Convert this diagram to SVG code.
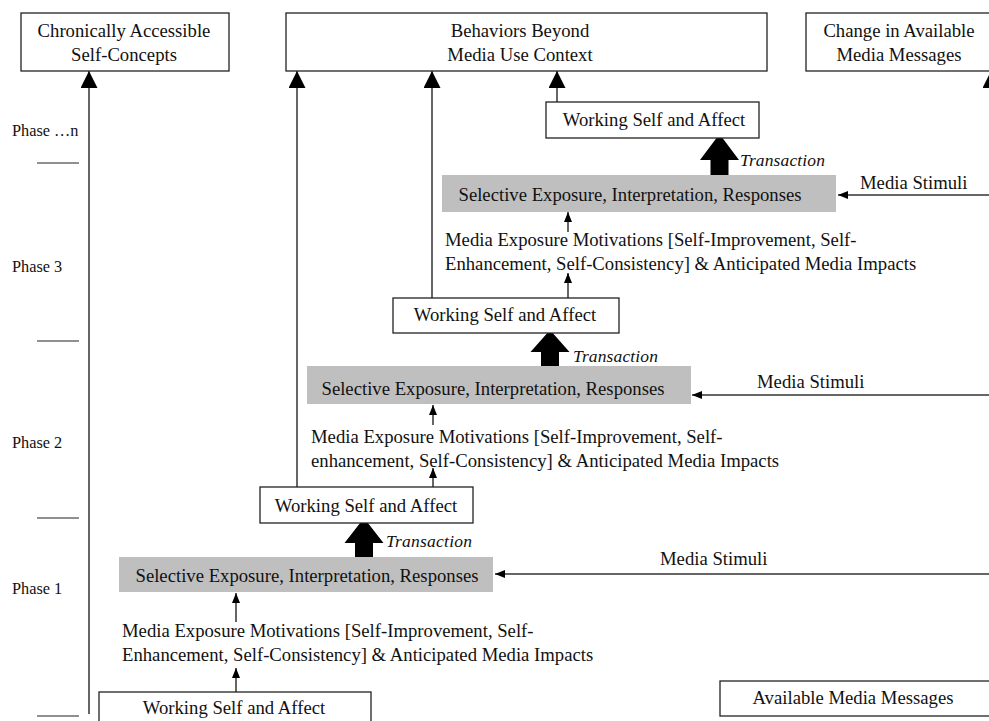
<svg xmlns="http://www.w3.org/2000/svg" width="989" height="721" viewBox="0 0 989 721">
<defs>
<style>
text{font-family:"Liberation Serif","Times New Roman",serif;fill:#111}
.t{font-size:18.7px}
.c{text-anchor:middle}
.ph{font-size:16.3px}
.tr{font-size:17.5px;font-style:italic}
.box{fill:#fff;stroke:#222;stroke-width:1.3}
.gray{fill:#bfbfbf}
.ln{stroke:#333;stroke-width:1.5;fill:none}
.sep{stroke:#222;stroke-width:1.2}
.blk{fill:#000}
</style>
<marker id="big" markerUnits="userSpaceOnUse" markerWidth="17" markerHeight="17" refX="17" refY="8.5" orient="auto"><path d="M0,0 L17,8.5 L0,17 z" fill="#000"/></marker>
<marker id="sm" markerUnits="userSpaceOnUse" markerWidth="10" markerHeight="8" refX="10" refY="4" orient="auto"><path d="M0,0 L10,4 L0,8 z" fill="#000"/></marker>
</defs>
<rect width="989" height="721" fill="#fff"/>

<g id="phases">
<text class="ph" x="12" y="136">Phase …n</text>
<text class="ph" x="12" y="272">Phase 3</text>
<text class="ph" x="12" y="448">Phase 2</text>
<text class="ph" x="12" y="594">Phase 1</text>
<line class="sep" x1="37" y1="163" x2="79" y2="163"/>
<line class="sep" x1="37" y1="341" x2="79" y2="341"/>
<line class="sep" x1="37" y1="518" x2="79" y2="518"/>
<line class="sep" x1="37" y1="716" x2="79" y2="716"/>
</g>

<g id="connectors">
<line class="ln" x1="89" y1="714" x2="89" y2="71" marker-end="url(#big)"/>
<line class="ln" x1="297" y1="487" x2="297" y2="71" marker-end="url(#big)"/>
<line class="ln" x1="432" y1="298" x2="432" y2="71" marker-end="url(#big)"/>
<line class="ln" x1="557" y1="102" x2="557" y2="71" marker-end="url(#big)"/>
<line class="ln" x1="991" y1="681" x2="991" y2="71" marker-end="url(#big)"/>
<line class="ln" x1="1000" y1="195" x2="838" y2="195" marker-end="url(#sm)"/>
<line class="ln" x1="1000" y1="395" x2="692" y2="395" marker-end="url(#sm)"/>
<line class="ln" x1="1000" y1="574" x2="495" y2="574" marker-end="url(#sm)"/>
<line class="ln" x1="568" y1="232" x2="568" y2="212" marker-end="url(#sm)"/>
<line class="ln" x1="568" y1="298" x2="568" y2="273" marker-end="url(#sm)"/>
<line class="ln" x1="433" y1="425" x2="433" y2="405" marker-end="url(#sm)"/>
<line class="ln" x1="433" y1="487" x2="433" y2="468" marker-end="url(#sm)"/>
<line class="ln" x1="236" y1="622" x2="236" y2="593" marker-end="url(#sm)"/>
<line class="ln" x1="236" y1="692" x2="236" y2="668" marker-end="url(#sm)"/>
<path class="blk" d="M719.5,134 L739,160 L728.5,160 L728.5,175 L710.5,175 L710.5,160 L700,160 z"/>
<path class="blk" d="M550,330 L569.5,352 L559,352 L559,366 L541,366 L541,352 L530.5,352 z"/>
<path class="blk" d="M364,518 L383.5,543 L373,543 L373,557 L355,557 L355,543 L344.5,543 z"/>
<text class="tr" x="740" y="166" textLength="85">Transaction</text>
<text class="tr" x="573" y="362" textLength="85">Transaction</text>
<text class="tr" x="386" y="547" textLength="86">Transaction</text>
<text class="t" x="860" y="189">Media Stimuli</text>
<text class="t" x="757" y="388">Media Stimuli</text>
<text class="t" x="660" y="565">Media Stimuli</text>
</g>

<g id="chronic">
<rect class="box" x="21" y="13" width="208" height="58"/>
<text class="t c" x="124" y="37">Chronically  Accessible</text>
<text class="t c" x="124" y="61">Self-Concepts</text>
</g>
<g id="behaviors">
<rect class="box" x="286" y="13" width="481" height="58"/>
<text class="t c" x="520" y="37">Behaviors Beyond</text>
<text class="t c" x="520" y="61">Media Use Context</text>
</g>
<g id="change">
<rect class="box" x="806" y="13" width="200" height="58"/>
<text class="t c" x="899" y="37">Change in Available</text>
<text class="t c" x="899" y="61">Media Messages</text>
</g>

<g id="ws4">
<rect class="box" x="546" y="102" width="213" height="36"/>
<text class="t c" x="654" y="126">Working  Self and Affect</text>
</g>
<g id="sel3">
<rect class="gray" x="442" y="175" width="394" height="37"/>
<text class="t c" x="630" y="201">Selective Exposure, Interpretation, Responses</text>
</g>
<g id="mot3">
<text class="t" x="445" y="246">Media Exposure Motivations [Self-Improvement, Self-</text>
<text class="t" x="445" y="270">Enhancement, Self-Consistency] &amp; Anticipated Media Impacts</text>
</g>
<g id="ws3">
<rect class="box" x="393" y="298" width="226" height="35"/>
<text class="t c" x="505" y="321">Working  Self and Affect</text>
</g>
<g id="sel2">
<rect class="gray" x="307" y="366" width="384" height="38"/>
<text class="t c" x="493" y="395">Selective Exposure, Interpretation, Responses</text>
</g>
<g id="mot2">
<text class="t" x="311" y="443">Media Exposure Motivations [Self-Improvement, Self-</text>
<text class="t" x="311" y="467">enhancement, Self-Consistency] &amp; Anticipated Media Impacts</text>
</g>
<g id="ws2">
<rect class="box" x="260" y="487" width="213" height="36"/>
<text class="t c" x="366" y="512">Working  Self and Affect</text>
</g>
<g id="sel1">
<rect class="gray" x="119" y="557" width="374" height="35"/>
<text class="t c" x="307" y="582">Selective Exposure, Interpretation, Responses</text>
</g>
<g id="mot1">
<text class="t" x="122" y="637">Media Exposure Motivations  [Self-Improvement, Self-</text>
<text class="t" x="122" y="661">Enhancement, Self-Consistency] &amp; Anticipated Media Impacts</text>
</g>
<g id="ws1">
<rect class="box" x="99" y="692" width="272" height="40"/>
<text class="t c" x="234" y="714">Working  Self and Affect</text>
</g>
<g id="available">
<rect class="box" x="720" y="681" width="300" height="35"/>
<text class="t c" x="853" y="704">Available Media Messages</text>
</g>
</svg>
